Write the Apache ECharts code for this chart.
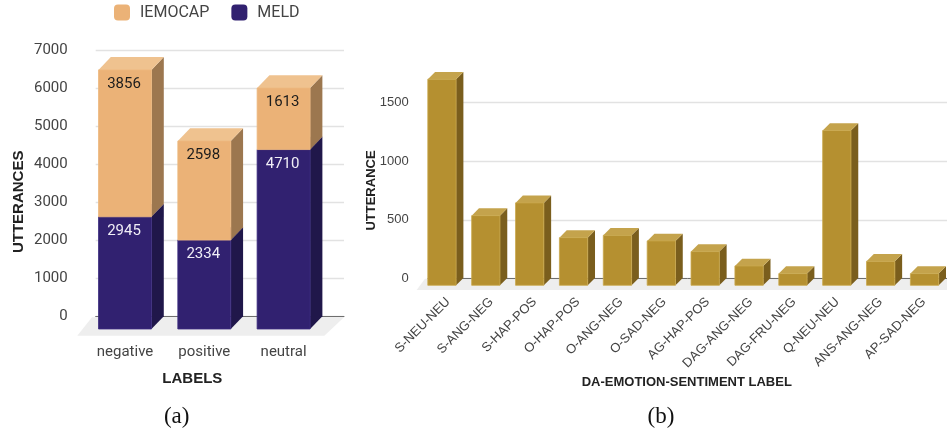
<!DOCTYPE html>
<html>
<head>
<meta charset="utf-8">
<style>
html,body{margin:0;padding:0;background:#fff;}
#main{width:947px;height:432px;filter:blur(0.4px);}
</style>
<script src="https://cdn.jsdelivr.net/npm/echarts@6/dist/echarts.min.js"></script>
</head>
<body>
<div id="main"></div>
<script>
// ---- data ----
var sentimentLabels = ['negative', 'positive', 'neutral'];
var meldValues = [2945, 2334, 4710];
var iemocapValues = [3856, 2598, 1613];
var daLabels = ['S-NEU-NEU','S-ANG-NEG','S-HAP-POS','O-HAP-POS','O-ANG-NEG','O-SAD-NEG','AG-HAP-POS','DAG-ANG-NEG','DAG-FRU-NEG','Q-NEU-NEU','ANS-ANG-NEG','AP-SAD-NEG'];
var daValues = [1760, 595, 704, 407, 427, 379, 288, 165, 100, 1322, 205, 100];

// ---- styles ----
var SANS = 'Roboto', ARIAL = '"Liberation Sans"';
var GRID_LINE = '#e2e2e2', ZERO_LINE = '#6e6e6e', FLOOR = '#eeeeee';
function plain(v){ return String(v); }

function box(widthRatio, depthX, depthY, c, labelStyle) {
  return function (params, api) {
    var i = api.value(0), lo = api.value(1), hi = api.value(2);
    var w = api.size([1, 0])[0] * widthRatio;
    var cx = api.coord([i, 0])[0];
    var x0 = cx - w / 2, x1 = cx + w / 2;
    var yb = api.coord([i, lo])[1], yt = api.coord([i, hi])[1];
    var ch = [
      {type:'polygon', shape:{points:[[x1,yb],[x1+depthX,yb-depthY],[x1+depthX,yt-depthY],[x1,yt]]}, style:{fill:c.side}},
      {type:'polygon', shape:{points:[[x0,yt],[x1,yt],[x1+depthX,yt-depthY],[x0+depthX,yt-depthY]]}, style:{fill:c.top}},
      {type:'rect', shape:{x:x0,y:yt,width:w,height:yb-yt}, style:{fill:c.front, stroke:c.edge, lineWidth:0.8}}
    ];
    if (labelStyle) {
      ch.push({type:'text', x:cx - 1, y:yt + 14.5, style:{text:String(hi-lo), fill:labelStyle, font:'15px '+SANS, align:'center', verticalAlign:'middle'}});
    }
    return {type:'group', children:ch};
  };
}

var peach = {front:'#ebb277', top:'#efc28f', side:'#9c774f', edge:'#eeb97f'};
var purple = {front:'#312170', top:'#3a2a7c', side:'#20174a', edge:'#3c2c80'};
var gold = {front:'#b59030', top:'#c4a34c', side:'#7a5e1d', edge:'#c9a84c'};

var option = {
  animation:false,
  backgroundColor:'#fff',
  legend:{
    left:114, top:4.5, padding:0, itemWidth:16, itemHeight:16, itemGap:22,
    data:['IEMOCAP','MELD'], icon:'roundRect',
    textStyle:{fontFamily:SANS, fontSize:16, color:'#444', padding:[0,0,0,5]}
  },
  grid:[
    {left:95.7, width:248.3, top:50, height:266.7},
    {left:85.35, width:237.9, top:62.3, height:266.7},
    {left:428, width:526.5, top:102.7, height:175.6},
    {left:420, width:526.5, top:109.7, height:175.6}
  ],
  xAxis:[
    {gridIndex:0, type:'category', data:sentimentLabels, axisLine:{lineStyle:{color:ZERO_LINE,width:1}}, axisTick:{show:false}, axisLabel:{show:false}},
    {gridIndex:1, type:'category', data:sentimentLabels, axisLine:{show:false}, axisTick:{show:false},
      axisLabel:{fontFamily:SANS,fontSize:15,color:'#444',margin:15.5},
      name:'LABELS', nameLocation:'middle', nameGap:42, nameMoveOverlap:false,
      nameTextStyle:{fontFamily:ARIAL,fontWeight:'bold',fontSize:15,color:'#222',padding:[0,24,0,0]}},
    {gridIndex:2, type:'category', data:daLabels, axisLine:{lineStyle:{color:ZERO_LINE,width:1}}, axisTick:{show:false},
      axisLabel:{fontFamily:ARIAL,fontSize:13,color:'#444',rotate:45,margin:20,interval:0,padding:[0,2,0,0]}},
    {gridIndex:3, type:'category', data:daLabels, axisLine:{show:false}, axisTick:{show:false}, axisLabel:{show:false},
      name:'DA-EMOTION-SENTIMENT LABEL', nameLocation:'middle', nameGap:91, nameMoveOverlap:false,
      nameTextStyle:{fontFamily:ARIAL,fontWeight:'bold',fontSize:13,color:'#222',padding:[0,0,0,7]}}
  ],
  yAxis:[
    {gridIndex:0, type:'value', min:0, max:7000, interval:1000, axisLine:{show:false}, axisTick:{show:false},
      splitLine:{lineStyle:{color:GRID_LINE,width:1.3}},
      axisLabel:{fontFamily:SANS,fontSize:15,color:'#444',margin:28,formatter:plain},
      name:'UTTERANCES', nameLocation:'middle', nameGap:69, nameRotate:90, nameMoveOverlap:false,
      nameTextStyle:{fontFamily:ARIAL,fontWeight:'bold',fontSize:15,color:'#222',padding:[0,37,0,0]}},
    {gridIndex:1, type:'value', min:0, max:7000, interval:1000, show:false},
    {gridIndex:2, type:'value', min:0, max:1500, interval:500, axisLine:{show:false}, axisTick:{show:false},
      splitLine:{lineStyle:{color:GRID_LINE,width:1.3}},
      axisLabel:{fontFamily:ARIAL,fontSize:13,color:'#444',margin:19.3,formatter:plain},
      name:'UTTERANCE', nameLocation:'middle', nameGap:50, nameRotate:90, nameMoveOverlap:false,
      nameTextStyle:{fontFamily:ARIAL,fontWeight:'bold',fontSize:13,color:'#222'}},
    {gridIndex:3, type:'value', min:0, max:1500, interval:500, show:false}
  ],
  graphic:[
    {type:'polygon', z:0, silent:true, shape:{points:[[92,317.3],[344,317.3],[324.3,335.7],[77.3,335.7]]}, style:{fill:FLOOR}},
    {type:'polygon', z:0, silent:true, shape:{points:[[425,278.8],[947,278.8],[947,290],[416.7,290]]}, style:{fill:FLOOR}},
    {type:'text', x:176.7, y:416.5, style:{text:'(a)', font:'23px "Liberation Serif"', fill:'#111', align:'center', verticalAlign:'middle'}},
    {type:'text', x:661, y:416.5, style:{text:'(b)', font:'23px "Liberation Serif"', fill:'#111', align:'center', verticalAlign:'middle'}}
  ],
  series:[
    {name:'MELD', type:'custom', xAxisIndex:1, yAxisIndex:1, clip:false, z:3,
      itemStyle:{color:purple.front}, encode:{x:0,y:[1,2]},
      renderItem:box(0.668,12.3,12.8,purple,'#f0eef6'),
      data:meldValues.map(function(v,i){return [i,0,v];})},
    {name:'IEMOCAP', type:'custom', xAxisIndex:1, yAxisIndex:1, clip:false, z:4,
      itemStyle:{color:peach.front}, encode:{x:0,y:[1,2]},
      renderItem:box(0.668,12.3,12.8,peach,'#1c1c1c'),
      data:iemocapValues.map(function(v,i){return [i,meldValues[i],meldValues[i]+v];})},
    {name:'DA', type:'custom', xAxisIndex:3, yAxisIndex:3, clip:false, z:3,
      itemStyle:{color:gold.front}, encode:{x:0,y:[1,2]},
      renderItem:box(0.645,7.3,7.3,gold,null),
      data:daValues.map(function(v,i){return [i,0,v];})}
  ]
};
var chart = echarts.init(document.getElementById('main'), null, {renderer:'canvas'});
chart.setOption(option);
</script>
</body>
</html>
